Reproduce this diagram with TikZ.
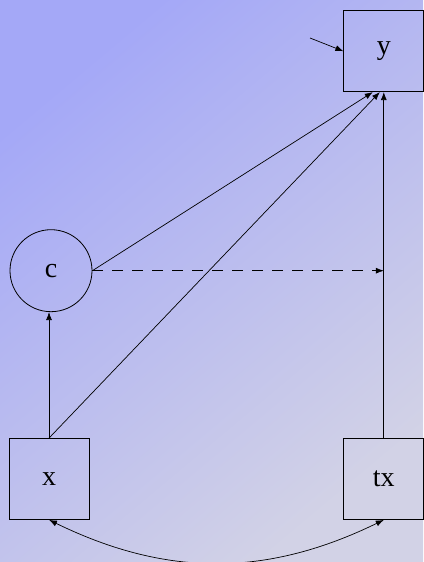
\documentclass[tikz,border=0pt]{standalone}
\usepackage{fontspec}
\setmainfont{Liberation Serif}
\definecolor{bgtop}{RGB}{164, 168, 247}
\definecolor{bgbot}{RGB}{210, 210, 230}
\usetikzlibrary{arrows.meta, positioning, calc}

\begin{document}
\begin{tikzpicture}[
      x=1pt, y=1pt,
      obs/.style={draw, line width=0.8pt, minimum width=80pt, minimum height=81pt, inner sep=0pt, font=\fontsize{28}{30}\selectfont},
      lat/.style={draw, circle, line width=0.8pt, minimum size=82pt, inner sep=0pt, font=\fontsize{28}{30}\selectfont},
      arr/.style={-{Latex[length=8pt, width=6pt]}, line width=0.7pt},
      cov/.style={{Latex[length=8pt, width=6pt]}-{Latex[length=8pt, width=6pt]}, line width=0.7pt},
    ]
      \shade[top color=bgtop, bottom color=bgbot, shading angle=40] (0,0) rectangle (423,562);
      \useasboundingbox (0,0) rectangle (423,562);

      \node[obs] (x) at (49,83) {x};
      \node[obs, right=254pt of x] (tx) {tx};
      \node[lat, above=126pt of x, xshift=2pt] (c) {c};
      \node[obs, above=346pt of tx] (y) {y};
      \coordinate (ey) at (310,524);

      \draw[arr] (x)--(x |- c.south);
      \draw[arr] (c.east) -- ([xshift=-11pt]y.south);
      \draw[arr] (x.north) -- ([xshift=-4pt]y.south);
      \draw[arr] (tx)--(y);
      \draw[arr, dash pattern=on 11pt off 9pt] (c.east) -- (c.east -| tx.north);
      \draw[arr] (ey) -- (y.west);
      \draw[cov] (x.south) to[bend right=26] (tx.south);
    \end{tikzpicture}
\end{document}
